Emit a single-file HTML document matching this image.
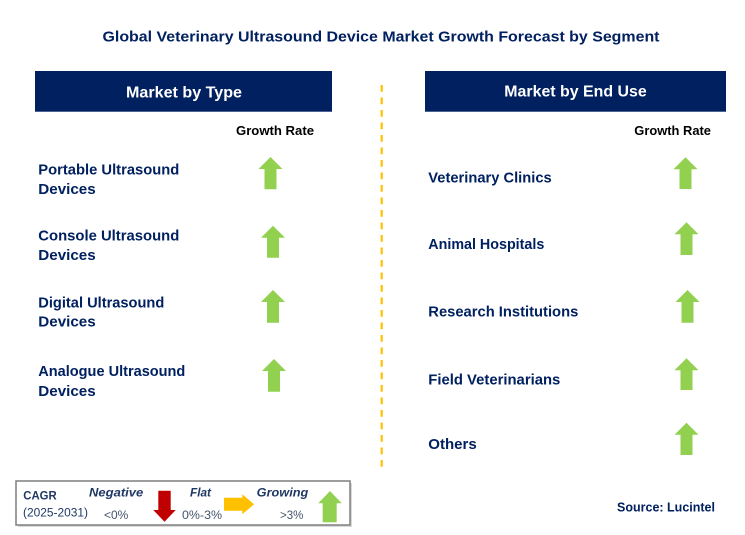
<!DOCTYPE html>
<html>
<head>
<meta charset="utf-8">
<style>
  html,body{margin:0;padding:0;background:#fff;}
  svg{display:block;}
  text{font-family:"Liberation Sans",Arial,sans-serif;}
</style>
</head>
<body>
<svg width="745" height="535" viewBox="0 0 745 535" xmlns="http://www.w3.org/2000/svg">
  <rect x="0" y="0" width="745" height="535" fill="#ffffff"/>

  <!-- Title -->
  <text x="102.5" y="41.7" font-size="15" font-weight="bold" fill="#002060" textLength="557" lengthAdjust="spacingAndGlyphs">Global Veterinary Ultrasound Device Market Growth Forecast by Segment</text>

  <!-- Header boxes -->
  <rect x="35" y="71" width="297" height="40.7" fill="#002060"/>
  <text x="126" y="97.3" font-size="16" font-weight="bold" fill="#ffffff" textLength="116" lengthAdjust="spacingAndGlyphs">Market by Type</text>
  <rect x="425" y="71" width="301" height="40.7" fill="#002060"/>
  <text x="504.3" y="96.7" font-size="16" font-weight="bold" fill="#ffffff" textLength="142.4" lengthAdjust="spacingAndGlyphs">Market by End Use</text>

  <!-- Dashed divider -->
  <line x1="381.7" y1="85" x2="381.7" y2="471" stroke="#FFC000" stroke-width="2.2" stroke-dasharray="6.8 5.7"/>

  <!-- Growth Rate labels -->
  <text x="236" y="135" font-size="13" font-weight="bold" fill="#000000" textLength="78" lengthAdjust="spacingAndGlyphs">Growth Rate</text>
  <text x="634.3" y="135" font-size="13" font-weight="bold" fill="#000000" textLength="76.7" lengthAdjust="spacingAndGlyphs">Growth Rate</text>

  <!-- Left items -->
  <g font-size="15" font-weight="bold" fill="#002060">
    <text x="38.3" y="174.3" textLength="141" lengthAdjust="spacingAndGlyphs">Portable Ultrasound</text>
    <text x="38.3" y="194" textLength="57.4" lengthAdjust="spacingAndGlyphs">Devices</text>
    <text x="38.3" y="240.7" textLength="141" lengthAdjust="spacingAndGlyphs">Console Ultrasound</text>
    <text x="38.3" y="260" textLength="57.4" lengthAdjust="spacingAndGlyphs">Devices</text>
    <text x="38.3" y="307.3" textLength="126" lengthAdjust="spacingAndGlyphs">Digital Ultrasound</text>
    <text x="38.3" y="326.7" textLength="57.4" lengthAdjust="spacingAndGlyphs">Devices</text>
    <text x="38.3" y="376" textLength="147" lengthAdjust="spacingAndGlyphs">Analogue Ultrasound</text>
    <text x="38.3" y="396" textLength="57.4" lengthAdjust="spacingAndGlyphs">Devices</text>
  </g>

  <!-- Right items -->
  <g font-size="15" font-weight="bold" fill="#002060">
    <text x="428.3" y="182.3" textLength="123.4" lengthAdjust="spacingAndGlyphs">Veterinary Clinics</text>
    <text x="428.3" y="249" textLength="116" lengthAdjust="spacingAndGlyphs">Animal Hospitals</text>
    <text x="428.3" y="316.7" textLength="150" lengthAdjust="spacingAndGlyphs">Research Institutions</text>
    <text x="428.3" y="384.3" textLength="132" lengthAdjust="spacingAndGlyphs">Field Veterinarians</text>
    <text x="428.3" y="449" textLength="48.4" lengthAdjust="spacingAndGlyphs">Others</text>
  </g>

  <!-- Green up arrows (left) -->
  <g fill="#92D050">
    <polygon points="270.5,157 282.5,169 276.5,169 276.5,189.3 264.5,189.3 264.5,169 258.5,169"/>
    <polygon points="273,225.7 285,237.7 279,237.7 279,257.7 267,257.7 267,237.7 261,237.7"/>
    <polygon points="273,290 285,302 279,302 279,322.7 267,322.7 267,302 261,302"/>
    <polygon points="274,359 286,371 280,371 280,391.7 268,391.7 268,371 262,371"/>
  </g>

  <!-- Green up arrows (right) -->
  <g fill="#92D050">
    <polygon points="685.5,157.3 697.5,169.3 691.5,169.3 691.5,189 679.5,189 679.5,169.3 673.5,169.3"/>
    <polygon points="686.5,222.3 698.5,234.3 692.5,234.3 692.5,255 680.5,255 680.5,234.3 674.5,234.3"/>
    <polygon points="687.5,290 699.5,302 693.5,302 693.5,322.7 681.5,322.7 681.5,302 675.5,302"/>
    <polygon points="686.5,358.3 698.5,370.3 692.5,370.3 692.5,390 680.5,390 680.5,370.3 674.5,370.3"/>
    <polygon points="686.5,422.7 698.5,434.7 692.5,434.7 692.5,455 680.5,455 680.5,434.7 674.5,434.7"/>
  </g>

  <!-- Legend box -->
  <rect x="18" y="483" width="334" height="44" fill="#d9d9d9"/>
  <rect x="16" y="481" width="334" height="44" fill="#ffffff" stroke="#7f7f7f" stroke-width="1.5"/>
  <text x="23.3" y="499.3" font-size="12" font-weight="bold" fill="#1F3864" textLength="33.4" lengthAdjust="spacingAndGlyphs">CAGR</text>
  <text x="23" y="516.7" font-size="11.5" fill="#1F3864" textLength="65" lengthAdjust="spacingAndGlyphs">(2025-2031)</text>
  <text x="89" y="496.7" font-size="12" font-weight="bold" font-style="italic" fill="#1F3864" textLength="54.3" lengthAdjust="spacingAndGlyphs">Negative</text>
  <text x="104" y="519" font-size="12" fill="#44546A" textLength="24.3" lengthAdjust="spacingAndGlyphs">&lt;0%</text>
  <polygon points="158.3,490.7 170.7,490.7 170.7,510 175.7,510 164.5,521.7 153.3,510 158.3,510" fill="#C00000"/>
  <text x="190" y="496.7" font-size="12" font-weight="bold" font-style="italic" fill="#1F3864" textLength="21" lengthAdjust="spacingAndGlyphs">Flat</text>
  <text x="182" y="519" font-size="12" fill="#44546A" textLength="40" lengthAdjust="spacingAndGlyphs">0%-3%</text>
  <polygon points="224,497.7 242.3,497.7 242.3,494.3 254,504.3 242.3,514.3 242.3,510.7 224,510.7" fill="#FFC000"/>
  <text x="256.7" y="496.7" font-size="12" font-weight="bold" font-style="italic" fill="#1F3864" textLength="51.6" lengthAdjust="spacingAndGlyphs">Growing</text>
  <text x="280" y="519" font-size="12" fill="#44546A" textLength="23.3" lengthAdjust="spacingAndGlyphs">&gt;3%</text>
  <polygon points="330,491 341.7,503.3 336.7,503.3 336.7,522.3 322.7,522.3 322.7,503.3 318.3,503.3" fill="#92D050"/>

  <!-- Source -->
  <text x="617" y="511.5" font-size="13" font-weight="bold" fill="#002060" textLength="98" lengthAdjust="spacingAndGlyphs">Source: Lucintel</text>
</svg>
</body>
</html>
